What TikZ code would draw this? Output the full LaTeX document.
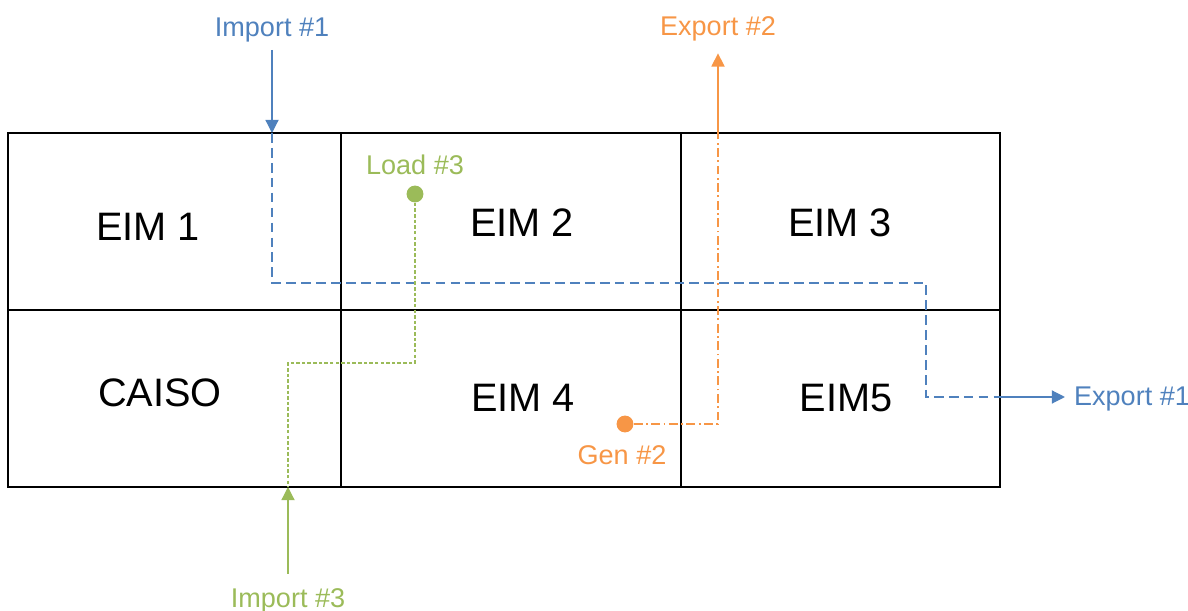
\documentclass[tikz,border=0pt]{standalone}
\usepackage{xcolor}
\usepackage{fontspec}
\setmainfont{Liberation Sans}
\usetikzlibrary{arrows.meta,positioning}

\definecolor{impblue}{RGB}{79,129,189}
\definecolor{exporange}{RGB}{247,150,70}
\definecolor{loadgreen}{RGB}{155,187,89}

\begin{document}
\begin{tikzpicture}[x=0.02cm, y=-0.02cm,
    zone/.style={anchor=base, font=\fontsize{22.6}{27}\selectfont},
    tag/.style={anchor=base, inner sep=1pt, font=\fontsize{15.4}{18}\selectfont},
    gridline/.style={line width=1.1pt},
    flow/.style={line width=0.7pt},
    tip/.style={-{Triangle[width=7.5pt,length=7.5pt]}},
    dot/.style={circle, fill, inner sep=0pt, minimum size=9.6pt},]
    \useasboundingbox (0,0) rectangle (1188,611);

    \draw[gridline] (8,133) rectangle (1000,487);
    \draw[gridline] (8,310) -- (1000,310) (341,133) -- (341,487) (681,133) -- (681,487);

    \node[zone] (eim1) at (148,241) {EIM 1};
    \node[zone] (eim2) at (522,237) {EIM 2};
    \node[zone] (eim3) at (840,237) {EIM 3};
    \node[zone] (caiso) at (160,407) {CAISO};
    \node[zone] (eim4) at (523,412) {EIM 4};
    \node[zone] (eim5) at (846,412) {EIM5};

    \node[tag, text=impblue] (imp1) at (272,37) {Import \#1};
    \node[tag, text=exporange] (exp2) at (718,36) {Export \#2};
    \node[tag, text=loadgreen] (load3) at (415,175) {Load \#3};
    \node[tag, text=exporange] (gen2) at (622,465) {Gen \#2};
    \node[tag, text=impblue, anchor=base west] (exp1) at (1072,406) {Export \#1};
    \node[tag, text=loadgreen] (imp3) at (288,607) {Import \#3};

    \node[dot, exporange] (gdot) at (625,424) {};
    \node[dot, loadgreen] (ldot) at (415,194) {};

    \coordinate (in1) at (272,133);
    \coordinate (out1) at (1000,397);
    \coordinate (out2) at (718,133);
    \coordinate (in3) at (288,487);

    \draw[flow, impblue, tip, shorten <=3pt] (imp1) -- (in1);
    \draw[flow, impblue, dash pattern=on 5.5pt off 3pt] (in1) -- (272,283) -| (926,397) -- (out1);
    \draw[flow, impblue, tip, shorten >=4pt] (out1) -- (exp1.west |- out1);

    \draw[flow, exporange, dash pattern=on 5pt off 2pt on 1pt off 2pt] (gdot) -- (718,424) -- (out2);
    \draw[flow, exporange, tip, shorten >=5.5pt] (out2) -- (exp2);

    \draw[flow, loadgreen, dash pattern=on 2pt off 1.2pt] (ldot) -- (415,363) -| (in3);
    \draw[flow, loadgreen, tip, shorten <=7pt] (imp3) -- (in3);
\end{tikzpicture}
\end{document}
